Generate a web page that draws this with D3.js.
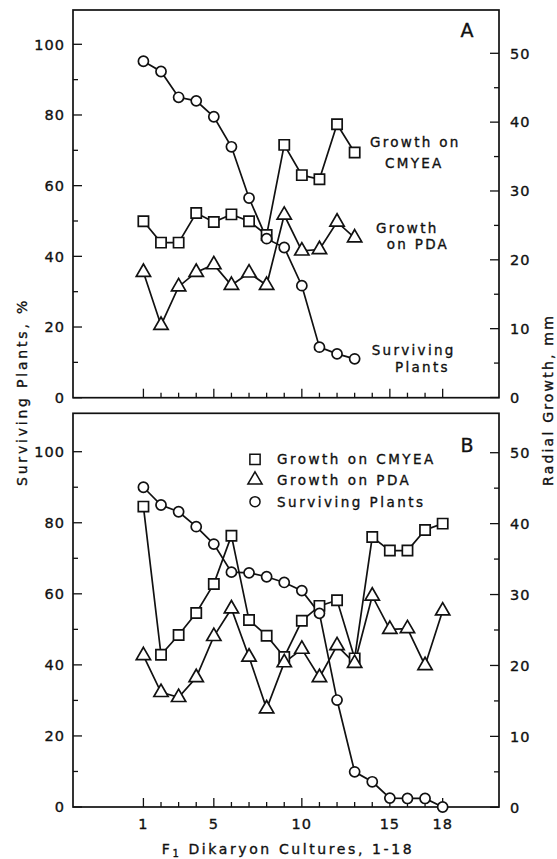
<!DOCTYPE html>
<html><head><meta charset="utf-8">
<script src="https://cdn.jsdelivr.net/npm/d3@7/dist/d3.min.js"></script>
<style>
body{margin:0;background:#fff}
text{font-family:"DejaVu Sans",sans-serif;fill:#111;stroke:#111;stroke-width:0.35px}
</style>
</head><body>
<svg id="c" width="557" height="859"></svg>
<script>
// ---------- data ----------
const culturesA = [1,2,3,4,5,6,7,8,9,10,11,12,13];
const survivingA = [95.2, 92.3, 85, 84, 79.5, 71, 56.5, 45, 42.5, 31.7, 14.3, 12.4, 11];
const cmyeaA = [25.6, 22.5, 22.5, 26.8, 25.5, 26.6, 25.6, 23.6, 36.7, 32.3, 31.7, 39.7, 35.6];
const pdaA = [18.2, 10.5, 16.1, 18.2, 19.3, 16.3, 18.1, 16.3, 26.5, 21.3, 21.5, 25.5, 23.2];

const culturesB = [1,2,3,4,5,6,7,8,9,10,11,12,13,14,15,16,17,18];
const survivingB = [90, 85, 83.1, 78.9, 74, 66.1, 65.9, 64.8, 63.2, 60.9, 54.5, 30.1, 9.9, 7.1, 2.5, 2.4, 2.4, 0];
const cmyeaB = [42.4, 21.5, 24.3, 27.4, 31.5, 38.3, 26.4, 24.2, 21.2, 26.3, 28.4, 29.2, 21.0, 38.1, 36.2, 36.2, 39.1, 40.0];
const pdaB = [21.4, 16.2, 15.5, 18.3, 24.1, 28.0, 21.2, 13.9, 20.4, 22.3, 18.3, 22.8, 20.3, 29.8, 25.1, 25.2, 20.0, 27.7];

const xMajorTicks = [1, 5, 10, 15, 18];
const xMinorTicks = [2,3,4,6,7,8,9,11,12,13,14,16,17];
const leftMajorTicks = [0, 20, 40, 60, 80, 100];
const leftMinorTicks = [10, 30, 50, 70, 90];
const rightMajorTicks = [0, 10, 20, 30, 40, 50];
const rightMinorTicks = [5, 15, 25, 35, 45];
const legendLabels = ["Growth on CMYEA", "Growth on PDA", "Surviving Plants"];

// ---------- layout ----------
const svg = d3.select("#c");
const L = 73, R = 499;
const x = d3.scaleLinear().domain([-3, 21.2]).range([L, R]);

const panels = [
  {name:"A", top:10, bottom:397.7,
   yL: d3.scaleLinear().domain([0,100]).range([397.7, 44.3]),
   yR: d3.scaleLinear().domain([0,50]).range([397.5, 53.3]),
   xs: culturesA, surv: survivingA, cm: cmyeaA, pda: pdaA},
  {name:"B", top:413.3, bottom:807,
   yL: d3.scaleLinear().domain([0,100]).range([807, 451.7]),
   yR: d3.scaleLinear().domain([0,50]).range([807.3, 452.7]),
   xs: culturesB, surv: survivingB, cm: cmyeaB, pda: pdaB}
];

const sw = 1.7;
const symTypes = {square:d3.symbolSquare, triangle:d3.symbolTriangle, circle:d3.symbolCircle};
const symSizes = {square:105, triangle:88, circle:80};
const sym = s => d3.symbol().type(symTypes[s]).size(symSizes[s])();

panels.forEach(p => {
  const g = svg.append("g");
  g.append("rect").attr("x", L).attr("y", p.top).attr("width", R-L).attr("height", p.bottom-p.top)
    .attr("fill","none").attr("stroke","#111").attr("stroke-width",1.7);
  leftMajorTicks.forEach(v => g.append("line").attr("x1",L).attr("x2",L+9).attr("y1",p.yL(v)).attr("y2",p.yL(v)).attr("stroke","#111").attr("stroke-width",1.3));
  leftMinorTicks.forEach(v => g.append("line").attr("x1",L).attr("x2",L+5).attr("y1",p.yL(v)).attr("y2",p.yL(v)).attr("stroke","#111").attr("stroke-width",1.3));
  leftMajorTicks.forEach(v => g.append("text").attr("x",65).attr("y",p.yL(v)).attr("dy","0.36em")
    .attr("text-anchor","end").attr("font-size",14.5).style("letter-spacing","1px").text(v));
  rightMajorTicks.forEach(v => g.append("line").attr("x1",R).attr("x2",R-9).attr("y1",p.yR(v)).attr("y2",p.yR(v)).attr("stroke","#111").attr("stroke-width",1.3));
  rightMinorTicks.forEach(v => g.append("line").attr("x1",R).attr("x2",R-5).attr("y1",p.yR(v)).attr("y2",p.yR(v)).attr("stroke","#111").attr("stroke-width",1.3));
  rightMajorTicks.forEach(v => g.append("text").attr("x",510).attr("y",p.yR(v)).attr("dy","0.36em")
    .attr("text-anchor","start").attr("font-size",14.5).style("letter-spacing","1px").text(v));
  xMajorTicks.forEach(v => g.append("line").attr("x1",x(v)).attr("x2",x(v)).attr("y1",p.bottom).attr("y2",p.bottom-9).attr("stroke","#111").attr("stroke-width",1.3));
  xMinorTicks.forEach(v => g.append("line").attr("x1",x(v)).attr("x2",x(v)).attr("y1",p.bottom).attr("y2",p.bottom-5).attr("stroke","#111").attr("stroke-width",1.3));

  const series = [
    {vals:p.cm, y:p.yR, s:"square"},
    {vals:p.pda, y:p.yR, s:"triangle"},
    {vals:p.surv, y:p.yL, s:"circle"}
  ];
  series.forEach(se => {
    const pts = p.xs.map((c,i)=>[x(c), se.y(se.vals[i])]);
    g.append("path").attr("d", d3.line()(pts)).attr("fill","none").attr("stroke","#111").attr("stroke-width",sw);
  });
  series.forEach(se => {
    p.xs.forEach((c,i) => {
      g.append("path").attr("d", sym(se.s)).attr("transform",`translate(${x(c)},${se.y(se.vals[i])})`)
        .attr("fill","#fff").attr("stroke","#111").attr("stroke-width",sw);
    });
  });
  g.append("text").attr("x",467).attr("y",(p.top+ (p.name==="A"?20:32))).attr("dy","0.36em").attr("text-anchor","middle")
    .attr("font-size",19).text(p.name);
});

// panel A inline labels
const lab = (t, xx, yy) => svg.append("text").attr("x",xx).attr("y",yy).attr("font-size",13.5)
  .style("letter-spacing","2.3px").text(t);
lab("Growth on", 370, 146.7);
lab("CMYEA", 385, 168.3);
lab("Growth", 376, 233.3);
lab("on PDA", 386.7, 249.3);
lab("Surviving", 371.7, 355);
lab("Plants", 395, 371.7);

// panel B legend
const legY = [459.3, 480, 501.7];
const legSym = ["square","triangle","circle"];
legendLabels.forEach((t,i) => {
  svg.append("path").attr("d", sym(legSym[i]))
    .attr("transform",`translate(255,${legY[i]})`).attr("fill","#fff").attr("stroke","#111").attr("stroke-width",1.5);
  svg.append("text").attr("x",277).attr("y",legY[i]).attr("dy","0.36em").attr("font-size",13.5)
    .style("letter-spacing","2.5px").text(t);
});

// x tick labels
xMajorTicks.forEach(v => svg.append("text").attr("x",x(v)).attr("y",824).attr("dy","0.36em")
  .attr("text-anchor","middle").attr("font-size",14.5).style("letter-spacing","1px").text(v));

// axis titles
const xt = svg.append("text").attr("x",288).attr("y",849).attr("dy","0.36em").attr("text-anchor","middle")
  .attr("font-size",14).style("letter-spacing","2.6px");
xt.append("tspan").text("F");
xt.append("tspan").attr("font-size",10).attr("dy","0.3em").text("1");
xt.append("tspan").attr("dy","-0.2em").text(" Dikaryon Cultures, 1-18");

svg.append("text").attr("transform","translate(22,392) rotate(-90)").attr("dy","0.36em")
  .attr("text-anchor","middle").attr("font-size",14).style("letter-spacing","2.8px").text("Surviving Plants, %");
svg.append("text").attr("transform","translate(548,400) rotate(-90)").attr("dy","0.36em")
  .attr("text-anchor","middle").attr("font-size",14).style("letter-spacing","2.2px").text("Radial Growth, mm");
</script>
</body></html>
